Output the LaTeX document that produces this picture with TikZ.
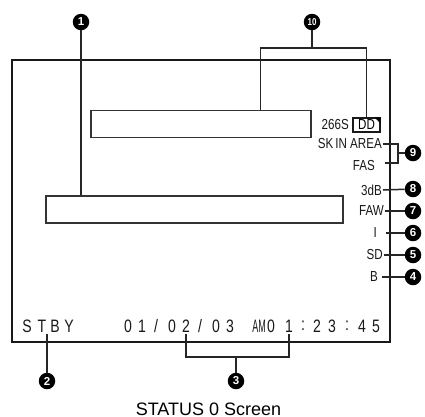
\documentclass[tikz,border=0pt]{standalone}
\usepackage{fontspec}
\setmainfont{Liberation Sans}
\usetikzlibrary{calc}
\newcommand\sct[1]{\scalebox{0.8}[1]{#1}}
\newcommand\scb[1]{\scalebox{0.78}[1]{#1}}
\newcommand\slsh{/}
\tikzset{
  frame/.style={line width=2.3pt, draw=black!90},
  box/.style={draw=black!80, line width=1.3pt, inner sep=0pt},
  conn/.style={line width=1.5pt, draw=black!85},
  scr/.style={inner sep=0pt, font=\fontsize{14.5}{14.5}\selectfont, text=black!90},
  scrb/.style={inner sep=0pt, font=\fontsize{18}{18}\selectfont, text=black!90},
  lab/.style={circle, fill=black, text=white, inner sep=0pt, minimum size=16.5pt,
    font=\bfseries\fontsize{11.5}{11.5}\selectfont},
}
\begin{document}
\begin{tikzpicture}[x=1pt,y=-1pt]
\useasboundingbox (0,0) rectangle (425,416);
\fill[white] (0,0) rectangle (425,416);
% screen frame
\node[frame, draw, minimum width=378pt, minimum height=282pt, inner sep=0pt] (scr) at (201,201) {};
% inner boxes
\node[box, minimum width=220pt, minimum height=27pt] (topbox) at (201,124) {};
\node[box, minimum width=297pt, minimum height=27pt] (midbox) at (194.5,209.5) {};
% top-right text
\node[scr, anchor=east] (t266) at (349,125) {\sct{266S}};
\node[draw=black!90, line width=1.1pt, inner sep=0pt, minimum width=27pt, minimum height=14pt,
  font=\fontsize{14.5}{14.5}\selectfont] (dd) at (366.5,125) {\sct{DD}};
\fill (dd.north east) -- ++(-6,0) -- ++(6,6) -- cycle;
\node[scr, anchor=east] (ska) at (382,144) {\sct{SK\,IN\ AREA}};
\node[scr, anchor=east] (fas) at (375,166) {\sct{FAS}};
\node[scr, anchor=east] (t3db) at (382,190) {\sct{3dB}};
\node[scr, anchor=east] (faw) at (384,211) {\sct{FAW}};
\node[scr, anchor=east] (ti) at (377,233) {\sct{I}};
\node[scr, anchor=east] (sd) at (383,255) {\sct{SD}};
\node[scr, anchor=east] (tb) at (378,277) {\sct{B}};
% bottom line text
\foreach \x/\c [count=\i] in {27/S,42/T,55/B,69/Y}
  \node[scrb] (s\i) at (\x,326) {\scb{\c}};
\foreach \x/\c [count=\i] in {128/0,142/1,156/\slsh,172/0,186/2,200/\slsh,216/0,230/3,
  259/AM,271/0,289/1,303/:,317/2,332/3,347/:,362/4,376/5}
  \node[scrb] (d\i) at (\x,326) {\ifnum\i=9 \scalebox{0.5}[1]{\c}\else\scb{\c}\fi};
% labels
\node[lab] (l1) at (81,22) {1};
\node[lab, font=\bfseries\fontsize{10}{10}\selectfont] (l10) at (312,22) {\scalebox{0.8}[1]{10}};
\node[lab] (l9) at (413,153) {9};
\node[lab] (l8) at (413,189) {8};
\node[lab] (l7) at (413,211) {7};
\node[lab] (l6) at (413,233) {6};
\node[lab] (l5) at (413,255) {5};
\node[lab] (l4) at (413,277) {4};
\node[lab] (l2) at (47,381) {2};
\node[lab] (l3) at (236,381) {3};
% connectors
\draw[conn] (l1) -- (l1 |- midbox.north);
\coordinate (b10) at (312,48);
\draw[conn] (l10) -- (b10);
\draw[conn] ($(topbox.north west)+(170,0)$) |- (b10) -| (dd.north);
\coordinate (j9a) at (398,144);
\coordinate (j9b) at (398,163);
\draw[conn] ([xshift=1pt]ska.east) -- (j9a) -- (j9b) -- (385,163);
\draw[conn] (j9a |- l9) -- (l9);
\draw[conn] ([xshift=1pt]t3db.east) -- (l8);
\draw[conn] ([xshift=1pt]faw.east) -- (l7);
\draw[conn] ([xshift=9pt]ti.east) -- (l6);
\draw[conn] ([xshift=1pt]sd.east) -- (l5);
\draw[conn] ([xshift=4pt]tb.east) -- (l4);
\coordinate (c2) at (47,334);
\draw[conn] (c2) -- (l2);
\coordinate (b3) at (236,357);
\draw[conn] ($(d5.south)+(0,2)$) |- (b3) -| ($(d11.south)+(0,2)$);
\draw[conn] (b3) -- (l3);
% caption
\node[inner sep=0pt, anchor=north, font=\fontsize{18}{18}\selectfont] (cap) at (208.5,403) {STATUS 0 Screen};
\end{tikzpicture}
\end{document}
